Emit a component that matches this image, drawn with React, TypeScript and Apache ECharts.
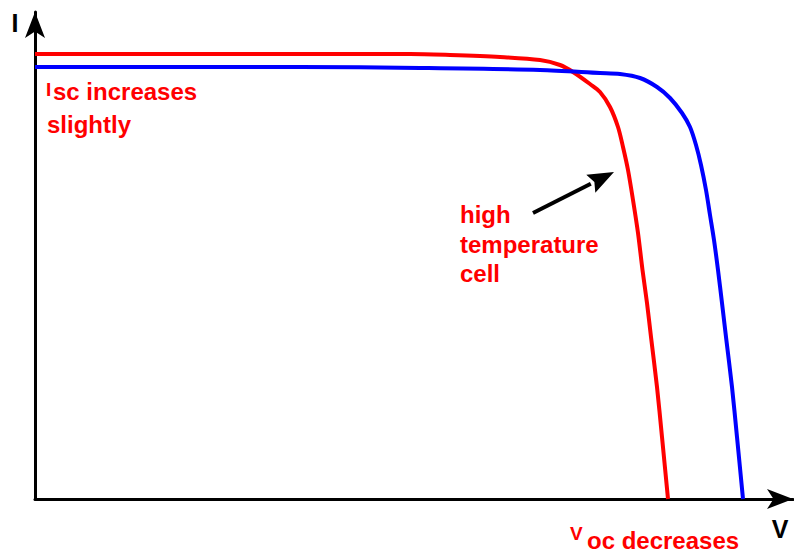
import React, { useEffect, useRef } from "react";
import * as echarts from "echarts";

// Normalised units (V: 0..758, I: 0..487)
const V_RED = [0, 165, 375, 415, 465, 505, 525, 538, 555, 565, 575, 583, 588, 593, 598, 603, 607.5, 612, 616, 622, 627, 633];
const I_RED = [445, 445, 445, 444, 442, 439, 434, 427, 415, 407, 392, 372, 352, 329, 299, 266, 229, 196, 162, 112, 62, 0];
const V_BLUE = [0, 265, 385, 505, 565, 585, 605, 622, 635, 647, 655, 661, 666, 671, 675, 679, 683, 687, 691, 697, 702, 708];
const I_BLUE = [432, 432, 431, 429, 426, 425, 421, 412, 401, 386, 372, 354, 334, 309, 284, 259, 229, 196, 162, 112, 62, 0];

const SERIES_NAMES = ["high temperature cell", "normal cell"];
const V_MAX = 758;
const I_MAX = 487;

const FONT = "Liberation Sans";

export default function App() {
  const ref = useRef<HTMLDivElement>(null);

  useEffect(() => {
    if (!ref.current) return;
    const chart = echarts.init(ref.current, undefined, { renderer: "svg" });

    // annotation arrow (pixel positions)
    const tail = [533, 213];
    const tip = [614, 172];
    const dx = tip[0] - tail[0];
    const dy = tip[1] - tail[1];
    const len = Math.sqrt(dx * dx + dy * dy);
    const ux = dx / len;
    const uy = dy / len;
    const headLen = 26;
    const headHalf = 10;
    const bx = tip[0] - headLen * ux;
    const by = tip[1] - headLen * uy;
    const nx = -uy;
    const ny = ux;

    const txt = (text: string, x: number, y: number, size: number, fill: string, align = "left") => ({
      type: "text",
      x,
      y,
      silent: true,
      style: {
        text,
        fill,
        font: `bold ${size}px "${FONT}"`,
        align,
        textAlign: align,
        verticalAlign: "middle",
        textVerticalAlign: "middle",
      },
    });

    const axisCommon = {
      type: "value",
      splitLine: { show: false },
      axisTick: { show: false },
      axisLabel: { show: false },
      axisLine: {
        show: true,
        symbol: ["none", "arrow"],
        symbolSize: [15, 26],
        lineStyle: { color: "#000", width: 3 },
      },
    };

    chart.setOption({
      animation: false,
      backgroundColor: "#fff",
      grid: { left: 35, right: 1, top: 12, bottom: 54 },
      xAxis: { ...axisCommon, min: 0, max: V_MAX },
      yAxis: { ...axisCommon, min: 0, max: I_MAX },
      series: [
        {
          name: SERIES_NAMES[0],
          type: "line",
          data: V_RED.map((v, i) => [v, I_RED[i]]),
          showSymbol: false,
          symbol: "none",
          smooth: 0.3,
          lineStyle: { color: "#ff0000", width: 4 },
          itemStyle: { color: "#ff0000" },
          z: 2,
        },
        {
          name: SERIES_NAMES[1],
          type: "line",
          data: V_BLUE.map((v, i) => [v, I_BLUE[i]]),
          showSymbol: false,
          symbol: "none",
          smooth: 0.3,
          lineStyle: { color: "#0000ff", width: 4 },
          itemStyle: { color: "#0000ff" },
          z: 3,
        },
      ],
      graphic: [
        txt("I", 15, 23, 25, "#000", "center"),
        txt("V", 780, 529, 25, "#000", "center"),
        txt("I", 46, 89, 19, "#ff0000"),
        txt("sc increases", 53, 91, 24, "#ff0000"),
        txt("slightly", 47, 124, 24, "#ff0000"),
        txt("high", 460, 214, 24, "#ff0000"),
        txt("temperature", 460, 244, 24, "#ff0000"),
        txt("cell", 460, 273, 24, "#ff0000"),
        txt("V", 570, 533, 19, "#ff0000"),
        txt("oc decreases", 587, 540, 24, "#ff0000"),
        {
          type: "line",
          silent: true,
          shape: { x1: tail[0], y1: tail[1], x2: bx, y2: by },
          style: { stroke: "#000", lineWidth: 4 },
        },
        {
          type: "polygon",
          silent: true,
          shape: {
            points: [
              [tip[0], tip[1]],
              [bx + headHalf * nx, by + headHalf * ny],
              [bx + 4 * ux, by + 4 * uy],
              [bx - headHalf * nx, by - headHalf * ny],
            ],
          },
          style: { fill: "#000" },
        },
      ],
    });

    return () => chart.dispose();
  }, []);

  return (
    <div
      ref={ref}
      style={{ position: "fixed", left: 0, top: 0, width: 794, height: 553, background: "#fff" }}
    />
  );
}
